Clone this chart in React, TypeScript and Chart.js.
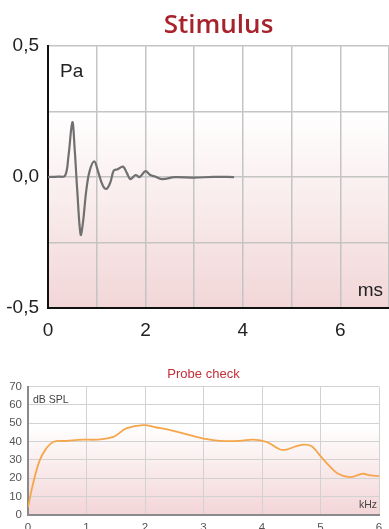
import React, { useEffect, useRef } from "react";
import { Chart, registerables } from "chart.js";

Chart.register(...registerables);

// Stimulus waveform: time (ms) and pressure (Pa)
const stimTime = [0, 0.2, 0.35, 0.42, 0.5, 0.55, 0.6, 0.67, 0.72, 0.78, 0.85, 0.95, 1.03, 1.12, 1.2, 1.28, 1.35, 1.43, 1.54, 1.62, 1.69, 1.8, 1.88, 2.0, 2.1, 2.2, 2.35, 2.6, 3.0, 3.4, 3.82];
const stimPa = [0, 0.002, 0.005, 0.08, 0.21, 0.1, -0.05, -0.22, -0.17, -0.06, 0.02, 0.06, 0.02, -0.03, -0.045, -0.02, 0.025, 0.03, 0.04, 0.015, -0.008, 0.008, 0, 0.023, 0.008, 0.002, -0.008, 0, -0.002, 0.001, 0];
const stimXTicks = [0, 2, 4, 6];
const stimYTicks: Record<string, string> = { "0.5": "0,5", "0": "0,0", "-0.5": "-0,5" };

// Probe check response: frequency (kHz) and level (dB SPL)
const probeKHz = [0, 0.086, 0.2, 0.31, 0.43, 0.66, 0.94, 1.17, 1.46, 1.68, 1.97, 2.2, 2.48, 2.77, 3.0, 3.28, 3.62, 3.85, 4.08, 4.31, 4.42, 4.59, 4.73, 4.85, 4.99, 5.16, 5.3, 5.5, 5.65, 5.73, 5.85, 6.0];
const probeDb = [4.2, 17, 29.8, 36.2, 39.8, 40.4, 41.1, 41.1, 42.6, 47.2, 49, 47.7, 45.9, 43.5, 41.7, 40.4, 40.4, 41.1, 39.8, 35.7, 35.7, 37.5, 38.4, 37.5, 32.5, 26.5, 22.5, 20.6, 21.9, 22.5, 21.6, 21.2];

const tickFont = "'Liberation Sans', Arial, sans-serif";

function gradientBg(id: string, whiteStop: number, pink: string) {
  return {
    id,
    beforeDatasetsDraw(chart: any) {
      const { ctx, chartArea: a } = chart;
      const g = ctx.createLinearGradient(0, a.top, 0, a.bottom);
      g.addColorStop(0, "#ffffff");
      g.addColorStop(whiteStop, "#ffffff");
      g.addColorStop(1, pink);
      ctx.save();
      ctx.globalCompositeOperation = "destination-over";
      ctx.fillStyle = g;
      ctx.fillRect(a.left, a.top, a.right - a.left, a.bottom - a.top);
      ctx.restore();
    },
  };
}

function unitLabels(id: string, font: string, color: string, yUnit: string, xUnit: string, yPos: [number, number], xPos: [number, number]) {
  return {
    id,
    afterDraw(chart: any) {
      const { ctx, chartArea: a } = chart;
      ctx.save();
      ctx.font = font;
      ctx.fillStyle = color;
      ctx.textBaseline = "alphabetic";
      ctx.textAlign = "left";
      ctx.fillText(yUnit, a.left + yPos[0], a.top + yPos[1]);
      ctx.textAlign = "right";
      ctx.fillText(xUnit, a.right - xPos[0], a.bottom - xPos[1]);
      ctx.restore();
    },
  };
}

function StimulusChart() {
  const ref = useRef<HTMLCanvasElement>(null);
  useEffect(() => {
    const chart = new Chart(ref.current!, {
      type: "line",
      data: {
        datasets: [
          {
            data: stimTime.map((t, i) => ({ x: t, y: stimPa[i] })),
            borderColor: "#707070",
            borderWidth: 2.2,
            pointRadius: 0,
            tension: 0.35,
            fill: false,
          },
        ],
      },
      options: {
        animation: false,
        responsive: false,
        devicePixelRatio: 1,
        layout: { padding: 0 },
        plugins: {
          legend: { display: false },
          tooltip: { enabled: false },
          title: {
            display: true,
            fullSize: false,
            text: "Stimulus",
            color: "#a8222b",
            font: { family: "'Open Sans', Arial, sans-serif", size: 26, weight: "600" as any },
            padding: { top: 10, bottom: 5 },
          },
        },
        scales: {
          x: {
            type: "linear",
            min: 0,
            max: 7,
            afterFit: (s: any) => {
              s.height = 37;
              s.paddingLeft = 0;
              s.paddingRight = 0;
            },
            ticks: {
              stepSize: 1,
              autoSkip: false,
              maxRotation: 0,
              padding: 11,
              color: "#222",
              font: { family: tickFont, size: 19 },
              callback: (v: any) => (stimXTicks.includes(Number(v)) ? String(v) : ""),
            },
            grid: { color: "#c4c4c4", lineWidth: 1.5, drawTicks: false },
            border: { display: true, color: "#111", width: 2 },
          },
          y: {
            min: -0.5,
            max: 0.5,
            afterFit: (s: any) => { s.width = 48; },
            ticks: {
              stepSize: 0.25,
              autoSkip: false,
              padding: 9,
              color: "#222",
              font: { family: tickFont, size: 19 },
              callback: (v: any) => stimYTicks[String(Number(v))] ?? "",
            },
            grid: { color: "#c4c4c4", lineWidth: 1.5, drawTicks: false },
            border: { display: true, color: "#111", width: 2 },
          },
        },
      },
      plugins: [
        gradientBg("stimBg", 0.25, "#f2d6d7"),
        unitLabels("stimUnits", "19px 'Liberation Sans', Arial, sans-serif", "#222", "Pa", "ms", [12, 31], [6, 12]),
      ],
    } as any);
    return () => chart.destroy();
  }, []);
  return <canvas ref={ref} width={389} height={345} style={{ display: "block" }} />;
}

function ProbeChart() {
  const ref = useRef<HTMLCanvasElement>(null);
  useEffect(() => {
    const chart = new Chart(ref.current!, {
      type: "line",
      data: {
        datasets: [
          {
            data: probeKHz.map((f, i) => ({ x: f, y: probeDb[i] })),
            borderColor: "#f5a54a",
            borderWidth: 1.8,
            pointRadius: 0,
            tension: 0.4,
            fill: false,
          },
        ],
      },
      options: {
        animation: false,
        responsive: false,
        devicePixelRatio: 1,
        layout: { padding: { left: 0, right: 10, top: 0, bottom: 0 } },
        plugins: {
          legend: { display: false },
          tooltip: { enabled: false },
          title: {
            display: true,
            fullSize: false,
            text: "Probe check",
            color: "#c42f38",
            font: { family: "'Liberation Sans', Arial, sans-serif", size: 13, weight: "normal" as any },
            padding: { top: 7, bottom: 4 },
          },
        },
        scales: {
          x: {
            type: "linear",
            min: 0,
            max: 6,
            afterFit: (s: any) => {
              s.height = 14;
              s.paddingLeft = 0;
              s.paddingRight = 0;
            },
            ticks: {
              stepSize: 1,
              autoSkip: false,
              maxRotation: 0,
              padding: 6,
              color: "#555",
              font: { family: tickFont, size: 11.5 },
            },
            grid: { color: "#d2d2d2", lineWidth: 1, drawTicks: false },
            border: { display: true, color: "#8a8a8a", width: 2 },
          },
          y: {
            min: 0,
            max: 70,
            afterFit: (s: any) => { s.width = 28; },
            ticks: {
              stepSize: 10,
              autoSkip: false,
              padding: 6,
              color: "#555",
              font: { family: tickFont, size: 11.5 },
            },
            grid: { color: "#d2d2d2", lineWidth: 1, drawTicks: false },
            border: { display: true, color: "#8a8a8a", width: 2 },
          },
        },
      },
      plugins: [
        gradientBg("probeBg", 0.3, "#f3d5d7"),
        unitLabels("probeUnits", "10.5px 'Liberation Sans', Arial, sans-serif", "#444", "dB SPL", "kHz", [5, 16], [2, 7]),
      ],
    } as any);
    return () => chart.destroy();
  }, []);
  return <canvas ref={ref} width={389} height={169} style={{ display: "block" }} />;
}

export default function App() {
  return (
    <div style={{ position: "absolute", left: 0, top: 0, width: 389, height: 529, overflow: "hidden", background: "#fff" }}>
      <div style={{ position: "absolute", left: 0, top: 0 }}>
        <StimulusChart />
      </div>
      <div style={{ position: "absolute", left: 0, top: 360 }}>
        <ProbeChart />
      </div>
    </div>
  );
}
